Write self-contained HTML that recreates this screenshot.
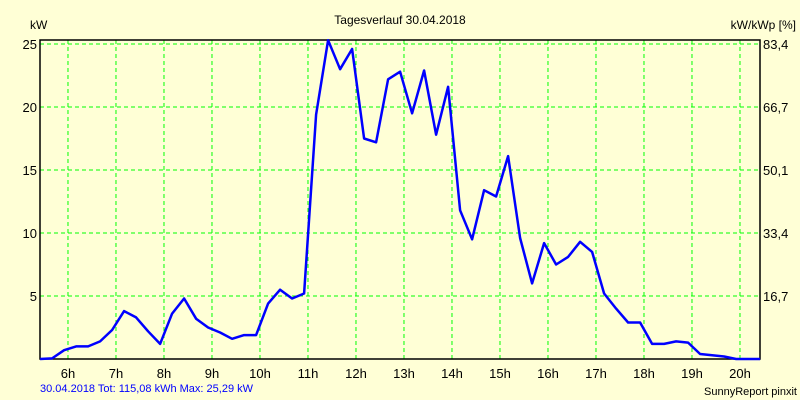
<!DOCTYPE html>
<html><head><meta charset="utf-8"><style>
body{margin:0;background:#ffffd6;}
svg{display:block;font-family:"Liberation Sans",sans-serif;}
</style></head><body>
<svg id="chart" width="800" height="400" viewBox="0 0 800 400">
<rect x="0" y="0" width="800" height="400" fill="#ffffd6"/>
<text x="400" y="24" font-size="12" text-anchor="middle">Tagesverlauf 30.04.2018</text>
<text x="30" y="29" font-size="12">kW</text>
<text x="796" y="29" font-size="12" text-anchor="end">kW/kWp [%]</text>
<g id="grid"></g>
<g id="ticks"></g>
<rect x="40" y="40" width="720" height="319" fill="none" stroke="#000" stroke-width="1.5"/>
<polyline id="line" fill="none" stroke="#0000ff" stroke-width="2.5" stroke-linejoin="round"/>
<text x="40" y="392" font-size="11" fill="#0000ff">30.04.2018 Tot: 115,08 kWh Max: 25,29 kW</text>
<text x="797" y="395" font-size="11" text-anchor="end">SunnyReport pinxit</text>
</svg>
<script>
const values=[0,0.05,0.7,1.0,1.0,1.4,2.3,3.8,3.3,2.2,1.2,3.6,4.8,3.2,2.5,2.1,1.6,1.9,1.9,4.4,5.5,4.8,5.2,19.4,25.3,23,24.6,17.5,17.2,22.2,22.8,19.5,22.9,17.8,21.6,11.8,9.5,13.4,12.9,16.1,9.6,6.0,9.2,7.5,8.1,9.3,8.5,5.2,4.0,2.9,2.9,1.2,1.2,1.4,1.3,0.4,0.3,0.2,0,0,0];
const startHour=5.42;
const stepHours=0.25;
const hourTicks=[6,7,8,9,10,11,12,13,14,15,16,17,18,19,20];
const kwTicks=[5,10,15,20,25];
const pctLabels=["16,7","33,4","50,1","66,7","83,4"];
const NS="http://www.w3.org/2000/svg";
const xMin=5.417,xMax=20.417,yMax=25.3;
function xs(h){return 40+(h-xMin)/(xMax-xMin)*720;}
function ys(v){return 359-v*12.6;}
const grid=document.getElementById('grid'),ticks=document.getElementById('ticks');
function mk(tag,attrs,parent){const e=document.createElementNS(NS,tag);for(const k in attrs)e.setAttribute(k,attrs[k]);parent.appendChild(e);return e;}
hourTicks.forEach(h=>{
  const x=xs(h);
  const l=mk('line',{x1:x,x2:x,y1:40,y2:359,stroke:'#00ff00','stroke-dasharray':'4,3','stroke-width':1},grid);
  
  
  const t=mk('text',{x:x,y:378,'font-size':13,'text-anchor':'middle'},ticks);
  t.textContent=h+'h';
  
  
});
kwTicks.forEach((v,i)=>{
  const y=ys(v);
  const l=mk('line',{x1:40,x2:760,y1:y,y2:y,stroke:'#00ff00','stroke-dasharray':'4,3','stroke-width':1},grid);
  
  
  const t=mk('text',{x:37,y:y+5,'font-size':13,'text-anchor':'end'},ticks);
  t.textContent=v;
  
  
  const r=mk('text',{x:763,y:y+5,'font-size':13},ticks);
  r.textContent=pctLabels[i];
  
  
});
document.getElementById('line').setAttribute('points',values.map((v,i)=>xs(startHour+i*stepHours).toFixed(1)+','+ys(Math.min(v,yMax)).toFixed(1)).join(' '));
</script>
</body></html>
